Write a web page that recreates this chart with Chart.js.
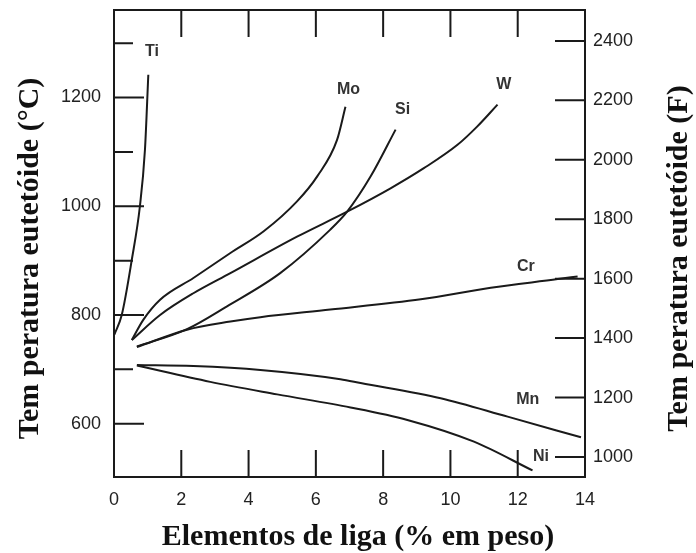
<!DOCTYPE html>
<html>
<head>
<meta charset="utf-8">
<script src="https://cdn.jsdelivr.net/npm/chart.js@4.4.1/dist/chart.umd.min.js"></script>
<style>
  html, body { margin: 0; padding: 0; background: #fff; }
</style>
</head>
<body>
<canvas id="chart" width="696" height="553"></canvas>
<script>
// axis ticks
const xTicks = [0, 2, 4, 6, 8, 10, 12, 14];
const leftTicks = [600, 800, 1000, 1200];
const leftMinorTicks = [700, 900, 1100, 1300];
const rightTicks = [1000, 1200, 1400, 1600, 1800, 2000, 2200, 2400];

// curves: % alloy element vs eutectoid temperature (°C)
const tiX = [0.01, 0.23, 0.53, 0.77, 0.92, 1.02];
const tiY = [764, 800, 902, 1000, 1104, 1242];
const moX = [0.53, 0.87, 1.37, 2.36, 3.46, 4.45, 5.44, 6.04, 6.63, 6.88];
const moY = [754, 791, 828, 868, 914, 954, 1009, 1055, 1122, 1183];
const wX = [0.53, 1.37, 2.36, 3.46, 5.44, 6.93, 8.22, 9.21, 10.21, 10.80, 11.40];
const wY = [754, 800, 840, 877, 944, 990, 1033, 1070, 1113, 1147, 1187];
const siX = [0.68, 2.17, 3.36, 4.94, 6.43, 6.93, 7.63, 8.37];
const siY = [742, 774, 816, 877, 957, 990, 1055, 1141];
const crX = [0.68, 2.17, 3.46, 4.35, 6.43, 9.12, 11.2, 13.19, 13.78];
const crY = [741, 773, 788, 796, 810, 829, 850, 866, 871];
const mnX = [0.68, 2.36, 4.35, 6.73, 7.33, 9.71, 11.70, 13.88];
const mnY = [708, 706, 699, 682, 675, 647, 613, 575];
const niX = [0.68, 2.86, 4.85, 7.03, 8.72, 10.70, 12.44];
const niY = [707, 677, 654, 630, 607, 567, 514];

const xTitle = 'Elementos de liga (% em peso)';
const yTitle = 'Tem peratura eutetóide (°C)';
const y2Title = 'Tem peratura eutetóide (F)';

// where each curve name sits, in data units
const curveLabels = [
  { text: 'Ti', x: 1.13, y: 1284 },
  { text: 'Mo', x: 6.97, y: 1214 },
  { text: 'Si', x: 8.58, y: 1177 },
  { text: 'W', x: 11.59, y: 1223 },
  { text: 'Cr', x: 12.24, y: 889 },
  { text: 'Mn', x: 12.30, y: 644 },
  { text: 'Ni', x: 12.69, y: 539 },
];

const toPoints = (xs, ys) => xs.map((x, i) => ({ x: x, y: ys[i] }));

const curve = (xs, ys) => ({
  data: toPoints(xs, ys),
  showLine: true,
  borderColor: '#1a1a1a',
  borderWidth: 2,
  pointRadius: 0,
  cubicInterpolationMode: 'monotone',
  yAxisID: 'y',
});

const tickFont = { family: '"Liberation Sans", Arial, sans-serif', size: 18 };
const plain = v => String(v);

// frame, inward tick marks, curve names and axis titles
const decorations = {
  id: 'decorations',
  afterDatasetsDraw(chart) {
    const { ctx, chartArea: a, scales } = chart;
    ctx.save();
    ctx.strokeStyle = '#1a1a1a';
    ctx.lineWidth = 2;
    ctx.strokeRect(a.left, a.top, a.right - a.left, a.bottom - a.top);

    ctx.beginPath();
    xTicks.slice(1, -1).forEach(v => {
      const px = scales.x.getPixelForValue(v);
      ctx.moveTo(px, a.bottom); ctx.lineTo(px, a.bottom - 27);
      ctx.moveTo(px, a.top); ctx.lineTo(px, a.top + 27);
    });
    leftTicks.forEach(v => {
      const py = scales.y.getPixelForValue(v);
      ctx.moveTo(a.left, py); ctx.lineTo(a.left + 30, py);
    });
    leftMinorTicks.forEach(v => {
      const py = scales.y.getPixelForValue(v);
      ctx.moveTo(a.left, py); ctx.lineTo(a.left + 19, py);
    });
    rightTicks.forEach(v => {
      const py = scales.y2.getPixelForValue(v);
      ctx.moveTo(a.right, py); ctx.lineTo(a.right - 30, py);
    });
    ctx.stroke();

    ctx.fillStyle = '#333';
    ctx.font = 'bold 16px "Liberation Sans", Arial, sans-serif';
    ctx.textAlign = 'center';
    ctx.textBaseline = 'middle';
    curveLabels.forEach(l => {
      ctx.fillText(l.text, scales.x.getPixelForValue(l.x), scales.y.getPixelForValue(l.y));
    });

    ctx.fillStyle = '#111';
    ctx.font = 'bold 30px "Liberation Serif", "Times New Roman", serif';
    ctx.fillText(xTitle, 358, 537);

    const midY = (a.top + a.bottom) / 2 + 15;
    ctx.save();
    ctx.translate(30, midY);
    ctx.rotate(-Math.PI / 2);
    ctx.fillText(yTitle, 0, 0);
    ctx.restore();

    ctx.save();
    ctx.translate(679, midY);
    ctx.rotate(-Math.PI / 2);
    ctx.fillText(y2Title, 0, 0);
    ctx.restore();
    ctx.restore();
  }
};

const config = {
  type: 'scatter',
  data: {
    datasets: [
      curve(tiX, tiY),
      curve(moX, moY),
      curve(wX, wY),
      curve(siX, siY),
      curve(crX, crY),
      curve(mnX, mnY),
      curve(niX, niY),
    ],
  },
  options: {
    responsive: false,
    animation: false,
    layout: { padding: { top: 10, left: 0, right: 0, bottom: 0 } },
    plugins: {
      legend: { display: false },
      tooltip: { enabled: false },
    },
    scales: {
      x: {
        type: 'linear',
        min: 0,
        max: 14,
        afterBuildTicks: s => { s.ticks = xTicks.map(v => ({ value: v })); },
        afterFit: s => { s.height = 76; s.paddingLeft = 0; s.paddingRight = 0; },
        grid: { display: false, drawTicks: false },
        border: { display: false },
        ticks: { font: tickFont, color: '#222', padding: 12, maxRotation: 0, callback: plain },
      },
      y: {
        type: 'linear',
        position: 'left',
        min: 502,
        max: 1361,
        afterBuildTicks: s => { s.ticks = leftTicks.map(v => ({ value: v })); },
        afterFit: s => { s.width = 114; s.paddingTop = 0; s.paddingBottom = 0; },
        grid: { display: false, drawTicks: false },
        border: { display: false },
        ticks: { font: tickFont, color: '#222', padding: 13, callback: plain },
      },
      y2: {
        type: 'linear',
        position: 'right',
        min: 932.7,
        max: 2504,
        afterBuildTicks: s => { s.ticks = rightTicks.map(v => ({ value: v })); },
        afterFit: s => { s.width = 111; s.paddingTop = 0; s.paddingBottom = 0; },
        grid: { display: false, drawTicks: false },
        border: { display: false },
        ticks: { font: tickFont, color: '#222', padding: 8, callback: plain },
      },
    },
  },
  plugins: [decorations],
};

const chart = new Chart(document.getElementById('chart'), config);
</script>
</body>
</html>
